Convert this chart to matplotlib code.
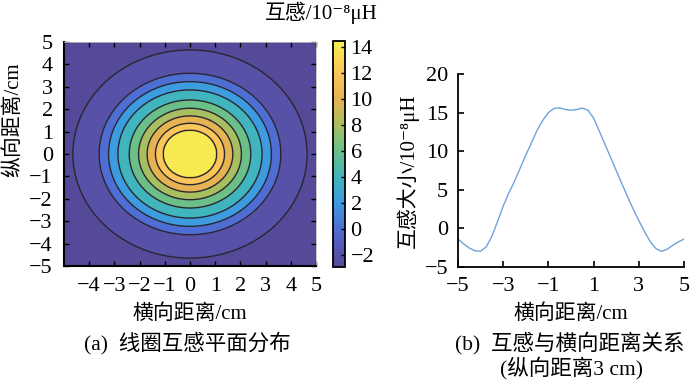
import numpy as np
import matplotlib
matplotlib.use("Agg")
import matplotlib.pyplot as plt
from matplotlib.colors import LinearSegmentedColormap, Normalize
from matplotlib.cm import ScalarMappable

plt.rcParams['font.family'] = ['Liberation Serif', 'DejaVu Serif', 'Noto Sans CJK SC']
plt.rcParams['axes.unicode_minus'] = True

# === Données (a) : profil radial des isolignes ===
ring_radius = [0.0, 1.07, 1.37, 1.70, 2.04, 2.41, 2.86, 3.23, 3.60, 4.64, 7.2]
ring_value = [14.46, 14, 12, 10, 8, 6, 4, 2, 0, -2, -2.92]
contour_levels = [-2, 0, 2, 4, 6, 8, 10, 12, 14]
cbar_min, cbar_max = -2.92, 14.46
cbar_ticks = [-2, 0, 2, 4, 6, 8, 10, 12, 14]

# === Données (b) : coupe à 3 cm ===
x_b = [-5, -4.75, -4.5, -4.25, -4, -3.75, -3.5, -3.25, -3, -2.75, -2.5, -2.25, -2,
       -1.75, -1.5, -1.25, -1, -0.75, -0.5, -0.25, 0, 0.25, 0.5, 0.75, 1, 1.25,
       1.5, 1.75, 2, 2.25, 2.5, 2.75, 3, 3.25, 3.5, 3.75, 4, 4.25, 4.5, 4.75, 5]
m_b = [-1.38, -2.0, -2.55, -2.9, -2.95, -2.4, -1.0, 0.9, 2.9, 4.6, 6.1, 7.8, 9.5,
       11.1, 12.7, 14.0, 15.0, 15.55, 15.6, 15.4, 15.3, 15.4, 15.58, 15.3, 14.3, 12.6,
       10.9, 9.2, 7.5, 5.8, 4.1, 2.5, 1.0, -0.4, -1.7, -2.6, -2.98, -2.7, -2.2, -1.75, -1.38]

# palette type parula, adoucie comme sur l'impression
parula_keys = [(0.0, (0.33, 0.29, 0.60)), (0.053, (0.34, 0.32, 0.66)),
               (0.168, (0.31, 0.43, 0.83)), (0.283, (0.24, 0.61, 0.88)),
               (0.398, (0.25, 0.71, 0.74)), (0.513, (0.42, 0.75, 0.54)),
               (0.628, (0.66, 0.75, 0.38)), (0.743, (0.90, 0.70, 0.32)),
               (0.858, (0.98, 0.77, 0.35)), (1.0, (0.97, 0.94, 0.32))]
parula = LinearSegmentedColormap.from_list("parula", parula_keys)
norm = Normalize(cbar_min, cbar_max)

fig = plt.figure(figsize=(7, 3.86), dpi=100)

# === (a) distribution plane ===
ax1 = fig.add_axes([0.0914, 0.3109, 0.36, 0.5803])
g = np.linspace(-5, 5, 401)
X, Y = np.meshgrid(g, g)
R = np.sqrt(X**2 + Y**2)
Z = np.interp(R, ring_radius, ring_value)
fill_levels = [-3.0] + contour_levels + [14.6]
band_colors = [parula(norm(max(v, cbar_min))) for v in fill_levels[:-1]]
ax1.contourf(X, Y, Z, levels=fill_levels, colors=band_colors)
ax1.contour(X, Y, Z, levels=contour_levels, colors='#2a2630', linewidths=1.0,
            linestyles='solid')
ax1.set_xlim(-5, 5)
ax1.set_ylim(-5, 5)
ax1.set_xticks(range(-4, 6))
ax1.set_yticks(range(-5, 6))
ax1.tick_params(direction='in', length=3.5, width=1, labelsize=16, pad=8,
                top=True, right=True)
for s in ['top', 'right']:
    ax1.spines[s].set_color('#bbbbbb')
    ax1.spines[s].set_linewidth(0.6)
for s in ['left', 'bottom']:
    ax1.spines[s].set_linewidth(1.5)
ax1.set_xlabel("横向距离/cm", fontsize=15, labelpad=6)
fig.text(0.019, 0.69, "纵向距离/cm", rotation=90, fontsize=15, ha='center', va='center')
fig.text(0.268, 0.111, "(a)  线圈互感平面分布", fontsize=15.5, ha='center', va='center')

# === barre de couleur ===
cax = fig.add_axes([0.4757, 0.3083, 0.0171, 0.5855])
sm = ScalarMappable(norm=norm, cmap=parula)
cb = fig.colorbar(sm, cax=cax, ticks=cbar_ticks)
cb.outline.set_linewidth(1.3)
cax.tick_params(direction='in', length=3, width=1, labelsize=16, pad=4)
fig.text(0.459, 0.966, "互感/10⁻⁸μH", fontsize=15, ha='center', va='center')

# === (b) coupe ===
ax2 = fig.add_axes([0.6543, 0.3083, 0.3229, 0.5])
ax2.plot(x_b, m_b, color='#6fa3dc', linewidth=1.0)
ax2.set_xlim(-5, 5)
ax2.set_ylim(-5, 20)
ax2.set_xticks([-5, -3, -1, 1, 3, 5])
ax2.set_yticks([-5, 0, 5, 10, 15, 20])
ax2.spines['top'].set_visible(False)
ax2.spines['right'].set_visible(False)
for s in ['left', 'bottom']:
    ax2.spines[s].set_linewidth(1.3)
ax2.tick_params(direction='in', length=4, width=1.2, labelsize=16, pad=7)
ax2.set_xlabel("横向距离/cm", fontsize=15, labelpad=6)
ax2.set_ylabel("互感大小/10⁻⁸μH", fontsize=15, labelpad=4)
fig.text(0.814, 0.111, "(b)  互感与横向距离关系", fontsize=15.5, ha='center', va='center')
fig.text(0.816, 0.047, "(纵向距离3 cm)", fontsize=15.5, ha='center', va='center')

fig.savefig("out.png", dpi=100)
